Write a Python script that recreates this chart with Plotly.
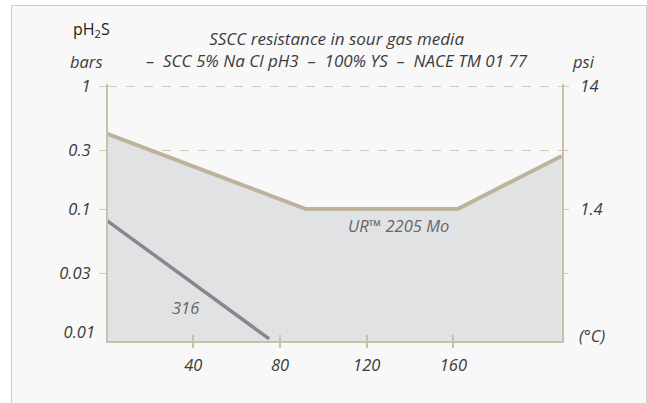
import plotly.graph_objects as go

# ---- data ----
temp_2205 = [0, 92, 162, 210]
ph2s_2205 = [0.41, 0.1, 0.1, 0.27]
temp_316 = [0, 75]
ph2s_316 = [0.081, 0.0088]

x_ticks = [40, 80, 120, 160]
x_ticktext = ["40", "80", "120", "160"]
y_grid_vals = [1, 0.3, 0.1, 0.03]
y_left_text = ["1", "0.3", "0.1", "0.03"]
y_right_vals = [1, 0.1]
y_right_text = ["14", "1.4"]
y_right_minor = [0.3, 0.03]
y_extra_vals = [0.01]
y_extra_text = ["0.01"]

W, H = 647, 403
L, R, T, B = 108, 85, 84, 62
PW, PH = W - L - R, H - T - B


def px(xp):
    return (xp - L) / PW


def py(yp):
    return (H - B - yp) / PH


TAN = "#bdb39b"
AXIS = "#c9c0aa"
GRID = "#d3cbb6"
FILL = "#e1e2e4"
GRAYLINE = "#88888c"
TXT = "#3c3c3c"
FONT = "Open Sans"
FS = 16.5

yr = [-2.073, 0.0163]
xr = [0.65, 210.1]

fig = go.Figure()
fig.add_trace(go.Scatter(
    x=temp_2205, y=ph2s_2205, mode="lines",
    line=dict(color=TAN, width=4), fill="tozeroy", fillcolor=FILL,
    showlegend=False, hoverinfo="skip"))
fig.add_trace(go.Scatter(
    x=temp_316, y=ph2s_316, mode="lines",
    line=dict(color=GRAYLINE, width=3.5),
    showlegend=False, hoverinfo="skip"))

tickfont = dict(family=FONT, size=FS, color=TXT, style="italic")

fig.update_layout(
    width=W, height=H,
    margin=dict(l=L, r=R, t=T, b=B),
    paper_bgcolor="white", plot_bgcolor="rgba(0,0,0,0)",
    xaxis=dict(range=xr, showgrid=False, zeroline=False,
               showline=True, linecolor=AXIS, linewidth=2,
               tickvals=x_ticks, ticktext=x_ticktext,
               ticks="outside", ticklen=5, tickwidth=2, tickcolor=AXIS,
               tickfont=tickfont, ticklabelstandoff=3),
    xaxis2=dict(range=xr, overlaying="x", anchor="y", side="bottom",
                showgrid=False, zeroline=False, showline=False,
                tickvals=x_ticks, showticklabels=False,
                ticks="inside", ticklen=6, tickwidth=2, tickcolor=AXIS),
    yaxis=dict(type="log", range=yr, zeroline=False,
               showline=True, linecolor=AXIS, linewidth=2,
               tickvals=y_grid_vals, ticktext=y_left_text,
               showgrid=True, gridcolor=GRID, griddash="dash", gridwidth=1,
               ticks="outside", ticklen=7, tickwidth=1, tickcolor=GRID,
               tickfont=tickfont, ticklabelstandoff=5),
    yaxis2=dict(type="log", range=yr, overlaying="y", side="right", anchor="x",
                zeroline=False, showgrid=False,
                showline=True, linecolor=AXIS, linewidth=2,
                tickvals=y_right_vals, ticktext=y_right_text,
                ticks="outside", ticklen=5, tickwidth=1, tickcolor=GRID,
                tickfont=tickfont, ticklabelstandoff=8),
    yaxis4=dict(type="log", range=yr, overlaying="y", side="right", anchor="x",
                zeroline=False, showgrid=False, showline=False,
                tickvals=y_right_minor, showticklabels=False,
                ticks="outside", ticklen=5, tickwidth=1, tickcolor=GRID),
    yaxis3=dict(type="log", range=yr, overlaying="y", side="left", anchor="x",
                zeroline=False, showgrid=False, showline=False,
                tickvals=y_extra_vals, ticktext=y_extra_text, ticks="",
                tickfont=tickfont, ticklabelstandoff=12),
)

# dummy traces to activate overlay axes
for xa, ya in [("x2", "y"), ("x", "y2"), ("x", "y3"), ("x", "y4")]:
    fig.add_trace(go.Scatter(x=[None], y=[None], xaxis=xa, yaxis=ya,
                             showlegend=False, hoverinfo="skip"))

# card background
fig.add_shape(type="rect", xref="paper", yref="paper",
              x0=px(11.5), x1=px(646.5), y0=py(420), y1=py(5.5),
              fillcolor="#f8f8f8", line=dict(color="#cdcdcd", width=1),
              layer="below")

ann_font = dict(family=FONT, size=FS, color=TXT, style="italic")
title_font = dict(family=FONT, size=17, color=TXT, style="italic")
fig.add_annotation(xref="paper", yref="paper", x=px(337), y=py(49),
                   text="SSCC resistance in sour gas media<br>"
                        "–&nbsp; SCC 5% Na Cl pH3 &nbsp;–&nbsp; 100% YS &nbsp;–&nbsp; NACE TM 01 77",
                   showarrow=False, align="center",
                   font=title_font, xanchor="center", yanchor="middle")
fig.add_annotation(xref="paper", yref="paper", x=px(91), y=py(29),
                   text="pH<sub>2</sub>S", showarrow=False,
                   font=dict(family=FONT, size=16, color="#222"),
                   xanchor="center", yanchor="middle")
fig.add_annotation(xref="paper", yref="paper", x=px(86), y=py(61),
                   text="bars", showarrow=False, font=ann_font,
                   xanchor="center", yanchor="middle")
fig.add_annotation(xref="paper", yref="paper", x=px(583), y=py(61),
                   text="psi", showarrow=False, font=ann_font,
                   xanchor="center", yanchor="middle")
fig.add_annotation(xref="paper", yref="paper", x=px(592), y=py(335),
                   text="(°C)", showarrow=False, font=ann_font,
                   xanchor="center", yanchor="middle")
lab_font = dict(family=FONT, size=FS, color="#666", style="italic")
fig.add_annotation(xref="paper", yref="paper", x=px(398), y=py(225),
                   text="UR™ 2205 Mo", showarrow=False, font=lab_font,
                   xanchor="center", yanchor="middle")
fig.add_annotation(xref="paper", yref="paper", x=px(185), y=py(307),
                   text="316", showarrow=False, font=lab_font,
                   xanchor="center", yanchor="middle")

fig.write_html("out.html",
               config={"displayModeBar": False},
               post_script="document.body.style.margin='0';document.body.style.overflow='hidden';")
